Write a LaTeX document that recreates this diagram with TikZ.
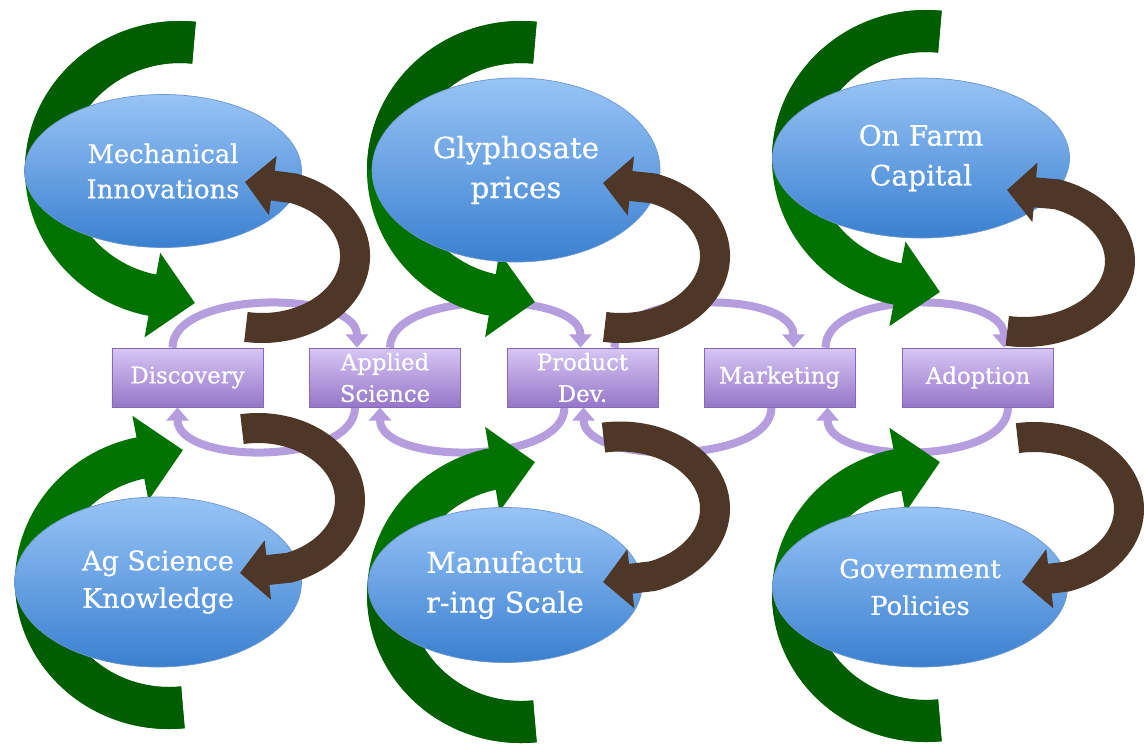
\documentclass[tikz,border=0pt]{standalone}
\usepackage{fontspec}
\setmainfont[FakeBold=0.5]{DejaVu Serif}
\usetikzlibrary{arrows.meta,calc,shapes.geometric}
\pgfdeclarelayer{arcs}
\pgfdeclarelayer{greens}
\pgfdeclarelayer{front}
\pgfsetlayers{arcs,greens,main,front}
\definecolor{gr}{RGB}{0,114,0}
\definecolor{grdark}{RGB}{0,94,0}
\definecolor{br}{RGB}{78,55,38}
\definecolor{pa}{RGB}{180,158,222}
\definecolor{eltop}{RGB}{152,196,246}
\definecolor{elbot}{RGB}{58,128,208}
\definecolor{elbd}{RGB}{110,150,205}
\definecolor{bxtop}{RGB}{214,198,244}
\definecolor{bxbot}{RGB}{150,118,200}
\definecolor{bxbd}{RGB}{135,105,185}
\tikzset{
  oval/.style={ellipse, draw=elbd, line width=0.6pt, top color=eltop, bottom color=elbot, text=white, align=center, inner sep=0pt},
  stage/.style={rectangle, draw=bxbd, line width=0.6pt, top color=bxtop, bottom color=bxbot, text=white, align=center, inner sep=0pt, minimum width=4.53cm, minimum height=1.77cm, font=\fontsize{19.5}{27}\selectfont},
  parrow/.style={draw=pa, line width=0.24cm, -{Triangle[width=0.66cm,length=0.4cm]}},
  garrow/.style={draw=gr, line width=1.26cm, -{Triangle[width=2.5cm,length=1.3cm]}},
  gtail/.style={draw=grdark, line width=1.26cm},
  barrow/.style={draw=br, line width=0.9cm, -{Triangle[width=1.74cm,length=0.84cm]}},
}
\begin{document}
\begin{tikzpicture}[x=0.03cm,y=-0.03cm]
\useasboundingbox (0,0) rectangle (1144,743);
\begin{pgfonlayer}{arcs}
\fill[white] (0,0) rectangle (1144,743);
\end{pgfonlayer}

% ellipses
\node[oval, minimum width=8.31cm, minimum height=4.59cm, font=\fontsize{22}{30}\selectfont] (mech) at (163,171) {Mechanical\\Innovations};
\node[oval, minimum width=8.64cm, minimum height=5.52cm, font=\fontsize{25}{34}\selectfont] (glyp) at (516,170) {Glyphosate\\prices};
\node[oval, minimum width=8.91cm, minimum height=4.8cm, font=\fontsize{24}{34}\selectfont] (farm) at (921,158) {On Farm\\Capital};
\node[oval, minimum width=8.61cm, minimum height=5.1cm, font=\fontsize{23}{32}\selectfont] (agsc) at (158,582) {Ag Science\\Knowledge};
\node[oval, minimum width=8.22cm, minimum height=4.65cm, font=\fontsize{24.5}{34}\selectfont] (manu) at (505,585) {Manufactu\\r-ing Scale};
\node[oval, minimum width=8.85cm, minimum height=4.8cm, font=\fontsize{22}{31.5}\selectfont] (govt) at (920,587) {Government\\Policies};

% stages
\node[stage] (disc) at (187.5,377.5) {Discovery};
\node[stage] (appl) at (385,377.5) {Applied\\Science};
\node[stage] (prod) at (582.5,377.5) {Product\\Dev.};
\node[stage] (mark) at (779.5,377.5) {Marketing};
\node[stage] (adop) at (978,377.5) {Adoption};

% purple cycle arcs
\begin{pgfonlayer}{arcs}
\draw[parrow] ($(disc.north)+(-15,0)$) .. controls +(0,-58) and +(0,-58) .. ($(appl.north)+(-28,0)$);
\draw[parrow] ($(appl.south)+(-30,0)$) .. controls +(0,58) and +(0,58) .. ($(disc.south)+(-10,0)$);
\draw[parrow] ($(appl.north)+(5,0)$) .. controls +(0,-58) and +(0,-58) .. ($(prod.north)+(-2,0)$);
\draw[parrow] ($(prod.south)+(-18,0)$) .. controls +(0,58) and +(0,58) .. ($(appl.south)+(-5,0)$);
\draw[parrow] ($(prod.north)+(32,0)$) .. controls +(0,-58) and +(0,-58) .. ($(mark.north)+(14,0)$);
\draw[parrow] ($(mark.south)+(-8,0)$) .. controls +(0,58) and +(0,58) .. ($(prod.south)+(1,0)$);
\draw[parrow] ($(mark.north)+(46,0)$) .. controls +(0,-58) and +(0,-58) .. ($(adop.north)+(26,0)$);
\draw[parrow] ($(adop.south)+(30,0)$) .. controls +(0,58) and +(0,58) .. ($(mark.south)+(48,0)$);
\end{pgfonlayer}

% green arrows
\begin{pgfonlayer}{greens}
\coordinate (g1s) at (194.0,42.7);  \coordinate (g1t) at (195,303);
\coordinate (g2s) at (534.9,42.7);  \coordinate (g2t) at (535,302);
\coordinate (g3s) at (939.9,31.7);  \coordinate (g3t) at (940,292);
\coordinate (g4s) at (182.9,707.3); \coordinate (g4t) at (183,450);
\coordinate (g5s) at (534.9,721.3); \coordinate (g5t) at (535,462);
\coordinate (g6s) at (939.9,720.3); \coordinate (g6t) at (940,462);
\draw[garrow] (g1s) arc[start angle=276,end angle=104,x radius=134,y radius=128] -- (g1t);
\draw[garrow] (g2s) arc[start angle=276,end angle=104,x radius=133,y radius=128] -- (g2t);
\draw[garrow] (g3s) arc[start angle=276,end angle=104,x radius=133,y radius=128] -- (g3t);
\draw[garrow] (g4s) arc[start angle=84,end angle=256,x radius=133,y radius=126.5] -- (g4t);
\draw[garrow] (g5s) arc[start angle=84,end angle=256,x radius=133,y radius=128] -- (g5t);
\draw[garrow] (g6s) arc[start angle=84,end angle=256,x radius=133,y radius=127] -- (g6t);
\draw[gtail] (g1s) arc[start angle=276,end angle=180,x radius=134,y radius=128];
\draw[gtail] (g2s) arc[start angle=276,end angle=180,x radius=133,y radius=128];
\draw[gtail] (g3s) arc[start angle=276,end angle=180,x radius=133,y radius=128];
\draw[gtail] (g4s) arc[start angle=84,end angle=180,x radius=133,y radius=126.5];
\draw[gtail] (g5s) arc[start angle=84,end angle=180,x radius=133,y radius=128];
\draw[gtail] (g6s) arc[start angle=84,end angle=180,x radius=133,y radius=127];
\end{pgfonlayer}

% brown arrows
\begin{pgfonlayer}{front}
\coordinate (b1s) at (245.9,326.9);  \coordinate (b1t) at (245,182);
\coordinate (b2s) at (604.7,326.9);  \coordinate (b2t) at (603,183);
\coordinate (b3s) at (1007.3,330.9); \coordinate (b3t) at (1007,190);
\coordinate (b4s) at (242,429.1);    \coordinate (b4t) at (240,573);
\coordinate (b5s) at (603.5,437.6);  \coordinate (b5t) at (603,582);
\coordinate (b6s) at (1017.5,438.1); \coordinate (b6t) at (1022,582);
\draw[barrow] (b1s) arc[start angle=100,end angle=-70,x radius=93,y radius=72] -- (b1t);
\draw[barrow] (b2s) arc[start angle=100,end angle=-70,x radius=94,y radius=72] -- (b2t);
\draw[barrow] (b3s) arc[start angle=100,end angle=-70,x radius=96,y radius=71] -- (b3t);
\draw[barrow] (b4s) arc[start angle=-100,end angle=70,x radius=92,y radius=72] -- (b4t);
\draw[barrow] (b5s) arc[start angle=-100,end angle=70,x radius=95,y radius=72] -- (b5t);
\draw[barrow] (b6s) arc[start angle=-100,end angle=70,x radius=95,y radius=72] -- (b6t);
\end{pgfonlayer}
\end{tikzpicture}
\end{document}
